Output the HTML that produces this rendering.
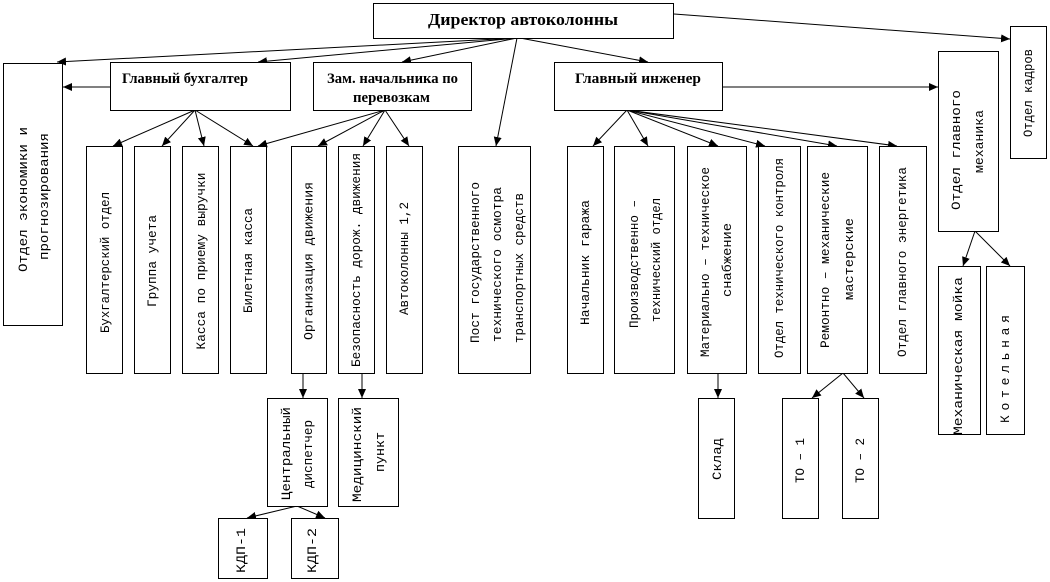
<!DOCTYPE html>
<html>
<head>
<meta charset="utf-8">
<style>
html,body{margin:0;padding:0;background:#fff;}
svg{display:block;}
.v{font-family:"Liberation Mono","DejaVu Sans Mono",monospace;font-size:13px;fill:#000;}
.h{font-family:"Liberation Serif","DejaVu Serif",serif;font-weight:bold;fill:#000;}
rect{fill:#fff;stroke:#000;stroke-width:1;}
line{stroke:#000;stroke-width:1;}
</style>
</head>
<body>
<svg width="1050" height="582" viewBox="0 0 1050 582" xmlns="http://www.w3.org/2000/svg">
<defs>
<marker id="a" markerUnits="userSpaceOnUse" markerWidth="9" markerHeight="8" refX="9" refY="4" orient="auto">
<path d="M0,0 L9,4 L0,8 z" fill="#000"/>
</marker>
</defs>

<!-- connectors -->
<g marker-end="url(#a)">
<line x1="517" y1="38" x2="57" y2="62"/>
<line x1="517" y1="38" x2="258" y2="62"/>
<line x1="517" y1="38" x2="402" y2="62"/>
<line x1="517" y1="38" x2="496" y2="146"/>
<line x1="520" y1="38" x2="648" y2="62"/>
<line x1="674" y1="14" x2="1010" y2="39"/>
<line x1="110" y1="87" x2="63" y2="87"/>
<line x1="722" y1="87" x2="938" y2="87"/>

<line x1="195" y1="110" x2="113" y2="146"/>
<line x1="195" y1="110" x2="162" y2="146"/>
<line x1="195" y1="110" x2="204" y2="146"/>
<line x1="195" y1="110" x2="253" y2="146"/>

<line x1="385" y1="110" x2="258" y2="146"/>
<line x1="385" y1="110" x2="318" y2="146"/>
<line x1="385" y1="110" x2="363" y2="146"/>
<line x1="385" y1="110" x2="409" y2="146"/>

<line x1="627" y1="110" x2="593" y2="146"/>
<line x1="627" y1="110" x2="648" y2="146"/>
<line x1="627" y1="110" x2="718" y2="146"/>
<line x1="627" y1="110" x2="765" y2="146"/>
<line x1="627" y1="110" x2="837" y2="146"/>
<line x1="627" y1="110" x2="897" y2="146"/>

<line x1="303" y1="373" x2="303" y2="398"/>
<line x1="362" y1="373" x2="362" y2="398"/>
<line x1="297" y1="506" x2="247" y2="518"/>
<line x1="297" y1="506" x2="325" y2="518"/>
<line x1="718" y1="373" x2="718" y2="398"/>
<line x1="843" y1="373" x2="812" y2="398"/>
<line x1="843" y1="373" x2="864" y2="398"/>
<line x1="975" y1="231" x2="963" y2="266"/>
<line x1="975" y1="231" x2="1010" y2="266"/>
</g>

<!-- boxes -->
<rect x="373.5" y="3.5" width="300" height="35"/>
<rect x="3.5" y="63.5" width="59" height="262"/>
<rect x="110.5" y="62.5" width="180" height="48"/>
<rect x="313.5" y="62.5" width="158" height="48"/>
<rect x="554.5" y="62.5" width="168" height="48"/>
<rect x="938.5" y="51.5" width="60" height="180"/>
<rect x="1010.5" y="26.5" width="36" height="132"/>

<rect x="86.5" y="146.5" width="36" height="227"/>
<rect x="134.5" y="146.5" width="36" height="227"/>
<rect x="182.5" y="146.5" width="36" height="227"/>
<rect x="230.5" y="146.5" width="36" height="227"/>
<rect x="291.5" y="146.5" width="35" height="227"/>
<rect x="338.5" y="146.5" width="36" height="227"/>
<rect x="386.5" y="146.5" width="36" height="227"/>
<rect x="458.5" y="146.5" width="72" height="227"/>
<rect x="567.5" y="146.5" width="36" height="227"/>
<rect x="614.5" y="146.5" width="60" height="227"/>
<rect x="687.5" y="146.5" width="59" height="227"/>
<rect x="758.5" y="146.5" width="42" height="227"/>
<rect x="807.5" y="146.5" width="60" height="227"/>
<rect x="879.5" y="146.5" width="47" height="227"/>

<rect x="938.5" y="266.5" width="42" height="168"/>
<rect x="986.5" y="266.5" width="38" height="168"/>
<rect x="267.5" y="398.5" width="60" height="108"/>
<rect x="338.5" y="398.5" width="60" height="108"/>
<rect x="218.5" y="518.5" width="49" height="60"/>
<rect x="291.5" y="518.5" width="47" height="60"/>
<rect x="698.5" y="398.5" width="36" height="120"/>
<rect x="782.5" y="398.5" width="36" height="120"/>
<rect x="842.5" y="398.5" width="36" height="120"/>

<!-- horizontal bold labels -->
<text class="h" x="428" y="25" font-size="17" textLength="190" lengthAdjust="spacingAndGlyphs">Директор автоколонны</text>
<text class="h" x="122" y="83" font-size="15" textLength="126" lengthAdjust="spacingAndGlyphs">Главный бухгалтер</text>
<text class="h" x="327" y="83" font-size="15" textLength="131" lengthAdjust="spacingAndGlyphs">Зам. начальника по</text>
<text class="h" x="353" y="102" font-size="15" textLength="77" lengthAdjust="spacingAndGlyphs">перевозкам</text>
<text class="h" x="575" y="83" font-size="15" textLength="126" lengthAdjust="spacingAndGlyphs">Главный инженер</text>

<!-- vertical labels -->
<g class="v">
<text transform="translate(23,199.5) rotate(-90)" x="-72.5" y="4" textLength="145" lengthAdjust="spacingAndGlyphs">Отдел экономики и</text>
<text transform="translate(44,196.5) rotate(-90)" x="-63.5" y="4" textLength="127" lengthAdjust="spacingAndGlyphs">прогнозирования</text>

<text transform="translate(105,262.5) rotate(-90)" x="-70.5" y="4" textLength="141" lengthAdjust="spacingAndGlyphs">Бухгалтерский отдел</text>
<text transform="translate(152,261) rotate(-90)" x="-46" y="4" textLength="92" lengthAdjust="spacingAndGlyphs">Группа учета</text>
<text transform="translate(201,261) rotate(-90)" x="-88.5" y="4" textLength="177" lengthAdjust="spacingAndGlyphs">Касса по приему выручки</text>
<text transform="translate(248,260.5) rotate(-90)" x="-52.5" y="4" textLength="105" lengthAdjust="spacingAndGlyphs">Билетная касса</text>
<text transform="translate(308.5,261) rotate(-90)" x="-79" y="4" textLength="158" lengthAdjust="spacingAndGlyphs">Организация движения</text>
<text transform="translate(356,260) rotate(-90)" x="-107" y="4" textLength="214" lengthAdjust="spacingAndGlyphs">Безопасность дорож. движения</text>
<text transform="translate(404,258.5) rotate(-90)" x="-56.5" y="4" textLength="113" lengthAdjust="spacingAndGlyphs">Автоколонны 1,2</text>

<text transform="translate(475,262.5) rotate(-90)" x="-80.5" y="4" textLength="161" lengthAdjust="spacingAndGlyphs">Пост государственного</text>
<text transform="translate(497,264.5) rotate(-90)" x="-77.5" y="4" textLength="155" lengthAdjust="spacingAndGlyphs">технического осмотра</text>
<text transform="translate(519,268) rotate(-90)" x="-75" y="4" textLength="150" lengthAdjust="spacingAndGlyphs">транспортных средств</text>

<text transform="translate(585,262.5) rotate(-90)" x="-62.5" y="4" textLength="125" lengthAdjust="spacingAndGlyphs">Начальник гаража</text>
<text transform="translate(634,264) rotate(-90)" x="-64" y="4" textLength="128" lengthAdjust="spacingAndGlyphs">Производственно –</text>
<text transform="translate(656,260) rotate(-90)" x="-62" y="4" textLength="124" lengthAdjust="spacingAndGlyphs">технический отдел</text>
<text transform="translate(705,262) rotate(-90)" x="-95" y="4" textLength="190" lengthAdjust="spacingAndGlyphs">Материально – техническое</text>
<text transform="translate(727,260) rotate(-90)" x="-37" y="4" textLength="74" lengthAdjust="spacingAndGlyphs">снабжение</text>
<text transform="translate(779,258) rotate(-90)" x="-100" y="4" textLength="200" lengthAdjust="spacingAndGlyphs">Отдел технического контроля</text>
<text transform="translate(825,260) rotate(-90)" x="-88" y="4" textLength="176" lengthAdjust="spacingAndGlyphs">Ремонтно – механические</text>
<text transform="translate(849,259) rotate(-90)" x="-41" y="4" textLength="82" lengthAdjust="spacingAndGlyphs">мастерские</text>
<text transform="translate(902,262) rotate(-90)" x="-95" y="4" textLength="190" lengthAdjust="spacingAndGlyphs">Отдел главного энергетика</text>

<text transform="translate(1028,93) rotate(-90)" x="-44" y="4" textLength="88" lengthAdjust="spacingAndGlyphs">Отдел кадров</text>
<text transform="translate(956,150) rotate(-90)" x="-60" y="4" textLength="120" lengthAdjust="spacingAndGlyphs">Отдел главного</text>
<text transform="translate(979,141.5) rotate(-90)" x="-31.5" y="4" textLength="63" lengthAdjust="spacingAndGlyphs">механика</text>
<text transform="translate(958,356) rotate(-90)" x="-79" y="4" textLength="158" lengthAdjust="spacingAndGlyphs">Механическая мойка</text>
<text transform="translate(1005,369) rotate(-90)" x="-54" y="4" textLength="108" lengthAdjust="spacing">Котельная</text>

<text transform="translate(286,453.5) rotate(-90)" x="-46.5" y="4" textLength="93" lengthAdjust="spacingAndGlyphs">Центральный</text>
<text transform="translate(308,454) rotate(-90)" x="-34" y="4" textLength="68" lengthAdjust="spacingAndGlyphs">диспетчер</text>
<text transform="translate(357,454.5) rotate(-90)" x="-47.5" y="4" textLength="95" lengthAdjust="spacingAndGlyphs">Медицинский</text>
<text transform="translate(380,452) rotate(-90)" x="-20" y="4" textLength="40" lengthAdjust="spacingAndGlyphs">пункт</text>
<text transform="translate(241,550.5) rotate(-90)" x="-22.5" y="4" textLength="45" lengthAdjust="spacingAndGlyphs">КДП-1</text>
<text transform="translate(312,550.5) rotate(-90)" x="-22.5" y="4" textLength="45" lengthAdjust="spacingAndGlyphs">КДП-2</text>
<text transform="translate(717,459) rotate(-90)" x="-21" y="4" textLength="42" lengthAdjust="spacingAndGlyphs">Склад</text>
<text transform="translate(800,460.5) rotate(-90)" x="-22.5" y="4" textLength="45" lengthAdjust="spacingAndGlyphs">ТО – 1</text>
<text transform="translate(860,460.5) rotate(-90)" x="-22.5" y="4" textLength="45" lengthAdjust="spacingAndGlyphs">ТО – 2</text>
</g>
</svg>
</body>
</html>
